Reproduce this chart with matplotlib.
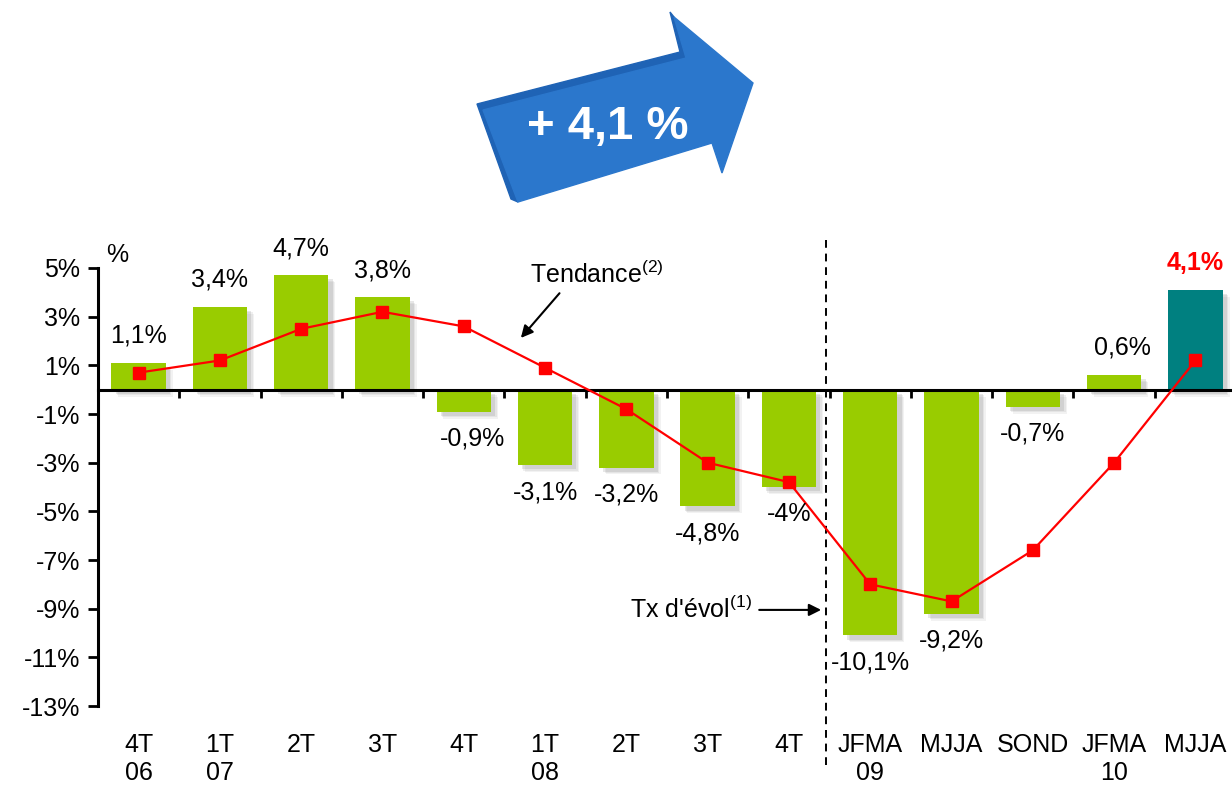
import matplotlib
matplotlib.use('Agg')
import matplotlib.pyplot as plt
import matplotlib.patheffects as pe
from matplotlib.patches import Polygon

plt.rcParams['font.family'] = ['Liberation Sans', 'DejaVu Sans']
plt.rcParams['mathtext.default'] = 'regular'

periods = ['4T\n06', '1T\n07', '2T', '3T', '4T', '1T\n08', '2T', '3T', '4T',
           'JFMA\n09', 'MJJA', 'SOND', 'JFMA\n10', 'MJJA']
evolution = [1.1, 3.4, 4.7, 3.8, -0.9, -3.1, -3.2, -4.8, -4.0, -10.1, -9.2, -0.7, 0.6, 4.1]
value_labels = ['1,1%', '3,4%', '4,7%', '3,8%', '-0,9%', '-3,1%', '-3,2%', '-4,8%', '-4%',
                '-10,1%', '-9,2%', '-0,7%', '0,6%', '4,1%']
trend = [0.7, 1.2, 2.5, 3.2, 2.6, 0.9, -0.8, -3.0, -3.8, -8.0, -8.7, -6.6, -3.0, 1.2]
yticks = [5, 3, 1, -1, -3, -5, -7, -9, -11, -13]

GREEN = '#99CC00'
TEAL = '#008080'
RED = '#FF0000'
FS = 18

fig = plt.figure(figsize=(12.32, 7.85), dpi=100)
ax = fig.add_axes([0.0795, 0.1006, 0.9205, 0.558])

x = list(range(len(evolution)))
colors = [GREEN] * (len(evolution) - 1) + [TEAL]
bars = ax.bar(x, evolution, width=0.67, color=colors, zorder=2)
# soft shadow: a few stacked translucent offsets
for b in bars:
    b.set_path_effects([pe.SimplePatchShadow(offset=(5, -5), shadow_rgbFace='#999999', alpha=0.12),
                        pe.SimplePatchShadow(offset=(4, -4), shadow_rgbFace='#999999', alpha=0.15),
                        pe.SimplePatchShadow(offset=(3, -3), shadow_rgbFace='#888888', alpha=0.2),
                        pe.Normal()])

ax.plot(x, trend, color=RED, lw=1.6, marker='s', markersize=8, zorder=4)

# value labels
for i, (v, lab) in enumerate(zip(evolution, value_labels)):
    dx = 0
    if i in (4, 12):
        dx = 6
    last = i == len(evolution) - 1
    ax.annotate(lab, xy=(i, v), xytext=(dx, 19.5 if v > 0 else -19.5),
                textcoords='offset points', ha='center', va='center',
                fontsize=FS, color=RED if last else 'black',
                fontweight='bold' if last else 'normal', zorder=5)

ax.set_xlim(-0.5, 13.45)
ax.set_ylim(-13, 5)
ax.set_yticks(yticks)
ax.set_yticklabels([f'{t}%' for t in yticks], fontsize=FS)
ax.set_xticks([i + 0.5 for i in range(len(evolution) - 1)])
ax.set_xticklabels([])
ax.tick_params(axis='x', direction='out', length=6, width=2)
ax.tick_params(axis='y', direction='out', length=7, width=2, pad=6)

for s in ('top', 'right'):
    ax.spines[s].set_visible(False)
ax.spines['left'].set_linewidth(2.2)
ax.spines['bottom'].set_linewidth(2.2)
ax.spines['bottom'].set_position(('data', 0))
ax.spines['bottom'].set_zorder(3)

for i, p in enumerate(periods):
    ax.annotate(p, xy=(i, 0), xycoords=('data', 'axes fraction'), xytext=(0, -19.5),
                textcoords='offset points', ha='center', va='top', fontsize=FS,
                linespacing=1.2, annotation_clip=False)

ax.text(0.007, 1.03, '%', transform=ax.transAxes, fontsize=FS, ha='left', va='center')

# separator
ax.plot([8.45, 8.45], [6.15, -15.6], color='black', lw=1.4, ls=(0, (4, 3)),
        clip_on=False, zorder=1)

# annotations
ax.text(5.64, 4.73, 'Tendance$^{(2)}$', fontsize=FS, ha='center', va='center')
ax.annotate('', xy=(4.68, 2.04), xytext=(5.2, 4.05),
            arrowprops=dict(arrowstyle='-|>', color='black', lw=1.5, mutation_scale=18))
ax.text(7.54, -9.05, "Tx d'évol$^{(1)}$", fontsize=FS, ha='right', va='center')
ax.annotate('', xy=(8.43, -9.05), xytext=(7.6, -9.05),
            arrowprops=dict(arrowstyle='-|>', color='black', lw=1.5, mutation_scale=18))

# big arrow graphic
over = fig.add_axes([0, 0, 1, 1], zorder=10)
over.set_xlim(0, 1232)
over.set_ylim(785, 0)
over.axis('off')
front = [(483, 110), (686, 58), (674, 17), (753, 83), (722, 173), (712, 143), (518, 202)]
side = [(477, 104), (680, 52), (670, 12), (674, 17), (686, 58), (483, 110), (518, 202), (511, 199)]
over.add_patch(Polygon(side, closed=True, color='#1F63B5'))
over.add_patch(Polygon(front, closed=True, color='#2B77CC'))
over.text(608, 127, '+ 4,1 %', color='white', fontsize=34, fontweight='bold',
          ha='center', va='center')

fig.savefig('out.png', dpi=100)
